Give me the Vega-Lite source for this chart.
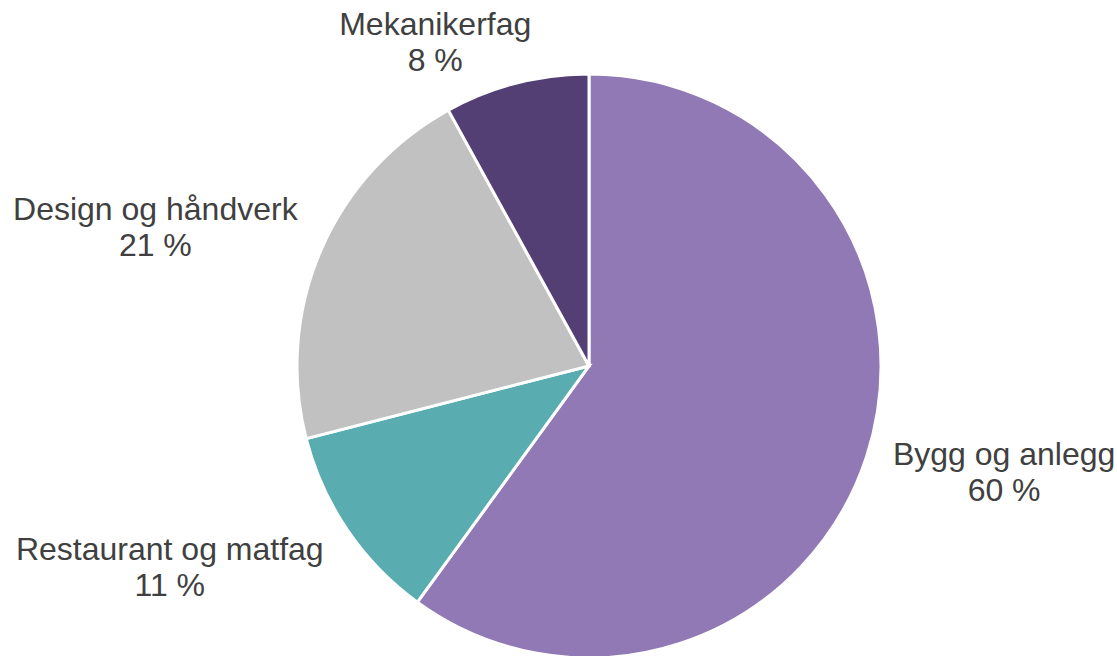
{
  "$schema": "https://vega.github.io/schema/vega-lite/v6.json",
  "width": 1000,
  "height": 580,
  "autosize": {"type": "none"},
  "padding": {"left": 89, "top": 76, "right": 28, "bottom": 0},
  "background": "white",
  "config": {"view": {"stroke": null}},
  "data": {
    "values": [
      {"cat": "Bygg og anlegg", "pct": 60, "idx": 1, "label": "Bygg og anlegg\n60 %"},
      {"cat": "Restaurant og matfag", "pct": 11, "idx": 2, "label": "Restaurant og matfag\n11 %"},
      {"cat": "Design og håndverk", "pct": 21, "idx": 3, "label": "Design og håndverk\n21 %"},
      {"cat": "Mekanikerfag", "pct": 8, "idx": 4, "label": "Mekanikerfag\n8 %"}
    ]
  },
  "encoding": {
    "theta": {"field": "pct", "type": "quantitative", "stack": true},
    "order": {"field": "idx", "type": "quantitative"}
  },
  "layer": [
    {
      "mark": {"type": "arc", "outerRadius": 292, "stroke": "white", "strokeWidth": 3},
      "encoding": {
        "color": {
          "field": "cat",
          "type": "nominal",
          "scale": {
            "domain": ["Bygg og anlegg", "Restaurant og matfag", "Design og håndverk", "Mekanikerfag"],
            "range": ["#9179B5", "#59ADB0", "#C1C1C1", "#543F74"]
          },
          "legend": null
        }
      }
    },
    {
      "mark": {"type": "text", "radius": 428, "thetaOffset": -0.068, "dy": -15, "fontSize": 32, "font": "Liberation Sans", "color": "#404040", "lineBreak": "\n", "lineHeight": 36, "align": "center", "baseline": "middle"},
      "encoding": {"text": {"condition": {"test": "datum.idx === 1", "field": "label"}, "value": ""}}
    },
    {
      "mark": {"type": "text", "radius": 464, "thetaOffset": 0.154, "dy": -15, "fontSize": 32, "font": "Liberation Sans", "color": "#404040", "lineBreak": "\n", "lineHeight": 36, "align": "center", "baseline": "middle"},
      "encoding": {"text": {"condition": {"test": "datum.idx === 2", "field": "label"}, "value": ""}}
    },
    {
      "mark": {"type": "text", "radius": 456, "thetaOffset": -0.094, "dy": -15, "fontSize": 32, "font": "Liberation Sans", "color": "#404040", "lineBreak": "\n", "lineHeight": 36, "align": "center", "baseline": "middle"},
      "encoding": {"text": {"condition": {"test": "datum.idx === 3", "field": "label"}, "value": ""}}
    },
    {
      "mark": {"type": "text", "radius": 360, "thetaOffset": -0.19, "dy": -15, "fontSize": 32, "font": "Liberation Sans", "color": "#404040", "lineBreak": "\n", "lineHeight": 36, "align": "center", "baseline": "middle"},
      "encoding": {"text": {"condition": {"test": "datum.idx === 4", "field": "label"}, "value": ""}}
    }
  ]
}
